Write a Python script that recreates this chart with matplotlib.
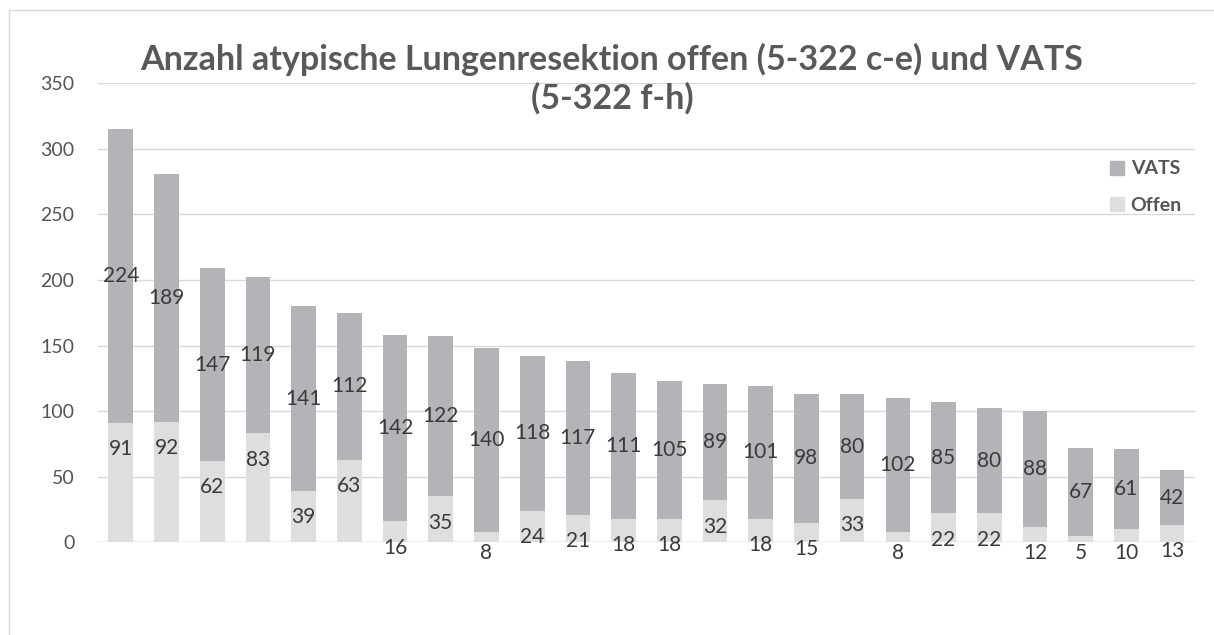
import matplotlib.pyplot as plt
import numpy as np
from matplotlib.lines import Line2D

plt.rcParams['font.family'] = ['Lato', 'DejaVu Sans']

# Offen (5-322 c-e) und VATS (5-322 f-h)
offen = [91, 92, 62, 83, 39, 63, 16, 35, 8, 24, 21, 18, 18, 32, 18, 15, 33, 8, 22, 22, 12, 5, 10, 13]
vats = [224, 189, 147, 119, 141, 112, 142, 122, 140, 118, 117, 111, 105, 89, 101, 98, 80, 102, 85, 80, 88, 67, 61, 42]
yticks = [0, 50, 100, 150, 200, 250, 300, 350]

c_offen = '#dededf'
c_vats = '#b3b4b8'
txt = '#3a3a3a'

fig = plt.figure(figsize=(12.14, 6.35), dpi=100)
ax = fig.add_axes([0.0807, 0.146, 0.9036, 0.723])

x = np.arange(len(offen))
ax.bar(x, offen, width=0.54, color=c_offen, zorder=2)
ax.bar(x, vats, width=0.54, bottom=offen, color=c_vats, zorder=2)

for i in range(len(offen)):
    ax.text(x[i], offen[i] + vats[i] / 2, str(vats[i]), ha='center', va='center',
            fontsize=15, color=txt, zorder=3)
    ax.text(x[i], max(offen[i] - 20, -8), str(offen[i]), ha='center', va='center',
            fontsize=15, color=txt, zorder=3)

ax.set_xlim(-0.5, len(offen) - 0.5)
ax.set_ylim(0, 350)
ax.set_yticks(yticks)
ax.set_xticks([])
ax.tick_params(axis='y', length=0, labelsize=14, labelcolor='#555555', pad=17)
ax.grid(axis='y', color='#d9d9d9', linewidth=1, zorder=0)
for s in ax.spines.values():
    s.set_visible(False)
ax.axhline(0, color='#d0d0d0', linewidth=1, zorder=1)

fig.text(0.504, 0.876, 'Anzahl atypische Lungenresektion offen (5-322 c-e) und VATS\n(5-322 f-h)',
         ha='center', va='center', fontsize=24.5, fontweight='bold', color='#595959',
         linespacing=1.25)

handles = [Line2D([], [], marker='s', linestyle='', markersize=10, color=c_vats),
           Line2D([], [], marker='s', linestyle='', markersize=10, color=c_offen)]
fig.legend(handles, ['VATS', 'Offen'], loc='upper right', bbox_to_anchor=(0.988, 0.775),
           frameon=False, handlelength=0.8, handletextpad=0.3, labelspacing=1.0,
           labelcolor='#555555', prop={'weight': 'bold', 'size': 14})

# Rahmen links und oben
fig.add_artist(Line2D([0.0074, 0.0074], [0.0, 0.984], color='#d9d9d9', linewidth=1))
fig.add_artist(Line2D([0.0074, 1.0], [0.984, 0.984], color='#d9d9d9', linewidth=1))

fig.savefig('out.png', dpi=100)
